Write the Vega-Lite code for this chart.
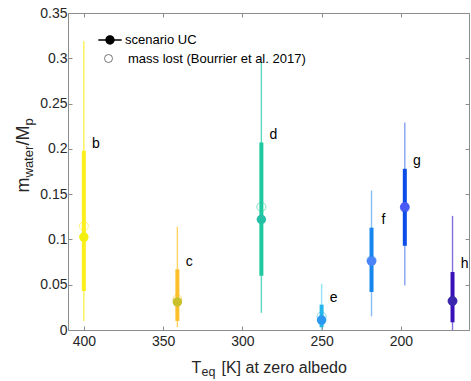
{
  "$schema": "https://vega.github.io/schema/vega-lite/v6.json",
  "width": 401,
  "height": 317,
  "autosize": {"type": "none"},
  "padding": {"left": 68, "top": 13, "right": 2, "bottom": 51},
  "background": "white",
  "data": {
    "values": [
      {"planet": "b", "T": 400, "lo1": 0.010, "hi1": 0.319, "lo2": 0.043, "hi2": 0.198, "uc": 0.1026, "ml": 0.1147, "ly": 0.2013},
      {"planet": "c", "T": 341, "lo1": 0.003, "hi1": 0.114, "lo2": 0.010, "hi2": 0.067, "uc": 0.031, "ml": 0.034, "ly": 0.071},
      {"planet": "d", "T": 288, "lo1": 0.019, "hi1": 0.296, "lo2": 0.060, "hi2": 0.207, "uc": 0.122, "ml": 0.136, "ly": 0.2107},
      {"planet": "e", "T": 250, "lo1": 0.0, "hi1": 0.051, "lo2": 0.003, "hi2": 0.028, "uc": 0.011, "ml": 0.015, "ly": 0.0312},
      {"planet": "f", "T": 218.5, "lo1": 0.015, "hi1": 0.154, "lo2": 0.042, "hi2": 0.113, "uc": 0.076, "ml": 0.077, "ly": 0.1166},
      {"planet": "g", "T": 197.5, "lo1": 0.049, "hi1": 0.229, "lo2": 0.093, "hi2": 0.178, "uc": 0.136, "ml": 0.135, "ly": 0.182},
      {"planet": "h", "T": 167.4, "lo1": 0.0, "hi1": 0.126, "lo2": 0.0085, "hi2": 0.064, "uc": 0.032, "ml": 0.032, "ly": 0.068}
    ]
  },
  "resolve": {"axis": {"x": "independent", "y": "independent"}, "scale": {"shape": "independent"}, "legend": {"shape": "independent"}},
  "layer": [
    {
      "mark": {"type": "rule", "strokeWidth": 1.4, "opacity": 0.75},
      "encoding": {
        "x": {"field": "T", "type": "quantitative",
          "scale": {"domain": [157, 410], "reverse": true, "nice": false, "zero": false},
          "axis": {"orient": "bottom", "values": [200, 250, 300, 350, 400], "tickSize": -4, "labelPadding": 8,
            "title": "T", "titleFontSize": 16, "titleX": 123, "titleY": 42, "titleAlign": "left", "titleBaseline": "alphabetic", "titleAngle": 0}},
        "y": {"field": "lo1", "type": "quantitative",
          "scale": {"domain": [0, 0.35], "nice": false, "zero": false},
          "axis": {"orient": "left", "values": [0, 0.05, 0.1, 0.15, 0.2, 0.25, 0.3, 0.35], "format": ".2~f", "tickSize": -4, "labelPadding": 5,
            "title": "m", "titleFontSize": 18, "titleX": -40, "titleY": 179, "titleAlign": "left", "titleBaseline": "alphabetic", "titleAngle": -90}},
        "y2": {"field": "hi1"},
        "color": {"field": "planet", "type": "nominal", "legend": null,
          "scale": {"domain": ["b", "c", "d", "e", "f", "g", "h"],
            "range": ["#f7ee1a", "#fcc62e", "#22cba3", "#6fd8f2", "#5fa8f6", "#5582ee", "#5a3cd8"]}}
      }
    },
    {
      "mark": {"type": "rule", "strokeWidth": 4},
      "encoding": {
        "x": {"field": "T", "type": "quantitative",
          "axis": {"orient": "top", "values": [200, 250, 300, 350, 400], "tickSize": -4, "labels": false, "title": null}},
        "y": {"field": "lo2", "type": "quantitative",
          "axis": {"orient": "right", "values": [0, 0.05, 0.1, 0.15, 0.2, 0.25, 0.3, 0.35], "tickSize": -4, "labels": false, "title": null}},
        "y2": {"field": "hi2"},
        "stroke": {"field": "planet", "type": "nominal", "legend": null,
          "scale": {"domain": ["b", "c", "d", "e", "f", "g", "h"],
            "range": ["#fbef1c", "#fcc02a", "#1ec9a0", "#25b6ea", "#1685ee", "#0b4de6", "#3812b8"]}}
      }
    },
    {
      "mark": {"type": "point", "filled": false, "size": 81, "strokeWidth": 1, "opacity": 0.55},
      "encoding": {
        "x": {"field": "T", "type": "quantitative",
          "axis": {"orient": "bottom", "labels": false, "ticks": false, "domain": false,
            "title": "eq", "titleFontSize": 12.5, "titleX": 133, "titleY": 45, "titleAlign": "left", "titleBaseline": "alphabetic", "titleAngle": 0}},
        "y": {"field": "ml", "type": "quantitative",
          "axis": {"orient": "left", "labels": false, "ticks": false, "domain": false,
            "title": "water", "titleFontSize": 13, "titleX": -36, "titleY": 164, "titleAlign": "left", "titleBaseline": "alphabetic", "titleAngle": -90}},
        "stroke": {"field": "planet", "type": "nominal", "legend": null}
      }
    },
    {
      "mark": {"type": "point", "filled": true, "size": 90, "opacity": 1},
      "encoding": {
        "x": {"field": "T", "type": "quantitative",
          "axis": {"orient": "bottom", "labels": false, "ticks": false, "domain": false,
            "title": "[K] at zero albedo", "titleFontSize": 16, "titleX": 153, "titleY": 42, "titleAlign": "left", "titleBaseline": "alphabetic", "titleAngle": 0}},
        "y": {"field": "uc", "type": "quantitative",
          "axis": {"orient": "left", "labels": false, "ticks": false, "domain": false,
            "title": "/M", "titleFontSize": 18, "titleX": -40, "titleY": 132, "titleAlign": "left", "titleBaseline": "alphabetic", "titleAngle": -90}},
        "fill": {"field": "planet", "type": "nominal", "legend": null,
          "scale": {"domain": ["b", "c", "d", "e", "f", "g", "h"],
            "range": ["#f3f010", "#c8c12b", "#25bfa5", "#2b98f0", "#4a84f8", "#4a5af5", "#3b27ae"]}}
      }
    },
    {
      "mark": {"type": "text", "align": "center", "baseline": "alphabetic", "dx": 12, "fontSize": 14, "color": "#000000"},
      "encoding": {
        "x": {"field": "T", "type": "quantitative", "axis": null},
        "y": {"field": "ly", "type": "quantitative",
          "axis": {"orient": "left", "labels": false, "ticks": false, "domain": false,
            "title": "p", "titleFontSize": 13, "titleX": -36, "titleY": 112, "titleAlign": "left", "titleBaseline": "alphabetic", "titleAngle": -90}},
        "text": {"field": "planet"}
      }
    },
    {
      "transform": [{"filter": "datum.planet === 'none'"}],
      "mark": {"type": "point", "filled": true, "color": "#000000", "strokeWidth": 0, "opacity": 1},
      "encoding": {
        "shape": {"datum": "scenario UC",
          "scale": {"domain": ["scenario UC"], "range": ["M-1.46,-0.09 L1.46,-0.09 L1.46,0.09 L-1.46,0.09 Z M0.58,0 A0.58,0.58 0 1,1 -0.58,0 A0.58,0.58 0 1,1 0.58,0 Z"]},
          "legend": {"title": null, "orient": "none", "legendX": 34, "legendY": 19, "padding": 0, "symbolSize": 256,
            "symbolFillColor": "#000000", "symbolStrokeColor": "#000000", "symbolStrokeWidth": 0, "symbolOpacity": 1,
            "labelFontSize": 13, "labelColor": "#000000", "labelOffset": 7, "labelLimit": 400}}
      }
    },
    {
      "transform": [{"filter": "datum.planet === 'none'"}],
      "mark": {"type": "point", "filled": false, "color": "#555555", "strokeWidth": 0.8, "opacity": 1},
      "encoding": {
        "shape": {"datum": "mass lost (Bourrier et al. 2017)",
          "scale": {"domain": ["mass lost (Bourrier et al. 2017)"], "range": ["circle"]},
          "legend": {"title": null, "orient": "none", "legendX": 34, "legendY": 39, "padding": 0, "symbolSize": 64,
            "symbolFillColor": "transparent", "symbolStrokeColor": "#555555", "symbolStrokeWidth": 0.8, "symbolOpacity": 1,
            "labelFontSize": 13, "labelColor": "#000000", "labelOffset": 13, "labelLimit": 400}}
      }
    }
  ],
  "config": {
    "font": "Liberation Sans",
    "view": {"stroke": null},
    "axis": {"labelFontSize": 14, "labelColor": "#262626", "labelFont": "Liberation Sans", "titleFont": "Liberation Sans",
      "titleColor": "#262626", "titleFontWeight": "normal", "domainColor": "#8c8c8c", "tickColor": "#8c8c8c", "grid": false},
    "legend": {"labelFont": "Liberation Sans"}
  }
}
